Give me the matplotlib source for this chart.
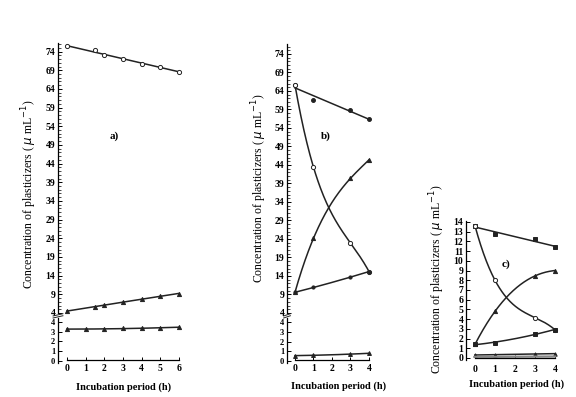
import numpy as np
import matplotlib
matplotlib.use('Agg')
import matplotlib.pyplot as plt
from matplotlib.ticker import MultipleLocator, FixedLocator

plt.rcParams['font.family'] = ['Liberation Serif', 'DejaVu Serif']

# ---------------- data ----------------
# panel a
ta1 = [0, 1.5, 2, 3, 4, 5, 6]
a_top = [75.5, 74.3, 73.0, 71.9, 70.8, 69.9, 68.6]
a_mid = [4.6, 5.5, 6.2, 6.9, 7.8, 8.5, 9.2]
ta3 = [0, 1, 2, 3, 4, 5, 6]
a_low = [3.25, 3.28, 3.30, 3.33, 3.36, 3.33, 3.50]

# panel b
tb = [0, 1, 3, 4]
b_top = [65.6, 61.6, 58.8, 56.4]
b_dec = [65.6, 43.4, 22.9, 15.2]
b_inc = [9.6, 24.2, 40.4, 45.4]
b_lin = [9.6, 10.9, 13.7, 15.2]
b_low = [0.55, 0.60, 0.70, 0.80]

# panel c
tc = [0, 1, 3, 4]
c_top = [13.6, 12.75, 12.2, 11.4]
c_dec = [13.6, 8.0, 4.15, 2.9]
c_inc = [1.4, 4.8, 8.45, 9.0]
c_lin = [1.4, 1.55, 2.5, 2.9]
c_low1 = [0.30, 0.35, 0.40, 0.45]
c_low2 = [0.12, 0.12, 0.14, 0.15]

upper_ticks = list(range(4, 75, 5))
lower_ticks = [0, 1, 2, 3, 4]
c_ticks = list(range(0, 15))
ylab = 'Concentration of plasticizers ( $\\mu$ mL$^{-1}$)'
xlab = 'Incubation period (h)'

# ---------------- figure ----------------
W, H = 576, 397
fig = plt.figure(figsize=(5.76, 3.97), dpi=100)

def rect(l, r, t, b):
    return [l / W, 1 - b / H, (r - l) / W, (b - t) / H]

LC = '#222222'
TFS = 7

def base(ax, xlim, ylim):
    ax.set_xlim(*xlim)
    ax.set_ylim(*ylim)
    ax.spines['top'].set_visible(False)
    ax.spines['right'].set_visible(False)
    ax.spines['left'].set_linewidth(0.9)
    ax.spines['bottom'].set_linewidth(0.9)
    ax.tick_params(axis='y', direction='in', length=3, width=0.7, pad=2,
                   labelsize=TFS)
    ax.tick_params(axis='y', which='minor', direction='in', length=1.8, width=0.5)
    ax.patch.set_alpha(0)

def upper_style(ax):
    ax.spines['bottom'].set_visible(False)
    ax.set_xticks([])
    ax.yaxis.set_major_locator(FixedLocator(upper_ticks))
    ax.yaxis.set_minor_locator(MultipleLocator(1))
    ax.set_yticklabels([str(v) for v in upper_ticks], fontweight='bold', fontsize=TFS)

def lower_style(ax, xmax, ypos):
    ax.yaxis.set_major_locator(FixedLocator(lower_ticks))
    ax.set_yticklabels([str(v) for v in lower_ticks], fontweight='bold', fontsize=6)
    ax.spines['bottom'].set_position(('data', ypos))
    ax.spines['bottom'].set_bounds(0, xmax)
    ax.set_xticks(range(0, xmax + 1))
    ax.set_xticklabels([str(v) for v in range(0, xmax + 1)], fontweight='bold')
    ax.tick_params(axis='x', direction='in', length=2.5, width=0.7, pad=3,
                   labelsize=TFS)

def brk(ax):
    for dy in (0.0, 0.045):
        ax.plot([-0.04, 0.04], [1.0 + dy, 1.05 + dy], transform=ax.transAxes,
                color=LC, lw=0.7, clip_on=False)

def line_fit(ax, t, y, deg, **kw):
    tt = np.linspace(min(t), max(t), 200)
    p = np.polyfit(t, y, deg)
    ax.plot(tt, np.polyval(p, tt), color=LC, lw=1.1, **kw)

def pts(ax, t, y, m, open_=False, ms=3):
    ax.plot(t, y, ls='none', marker=m, ms=ms, color=LC,
            mfc='white' if open_ else LC, mew=0.7, clip_on=False)

# ---- panel a ----
aU = fig.add_axes(rect(58, 181, 43, 313))
aL = fig.add_axes(rect(58, 181, 318, 363))
base(aU, (-0.482, 6.107), (4, 76.3))
base(aL, (-0.482, 6.107), (-0.2, 4.4))
upper_style(aU)
lower_style(aL, 6, 0.15)
line_fit(aU, ta1, a_top, 1)
pts(aU, ta1, a_top, 'o', True, 3)
line_fit(aU, ta1, a_mid, 2)
pts(aU, ta1, a_mid, '^', False, 3)
line_fit(aL, ta3, a_low, 2)
pts(aL, ta3, a_low, '^', False, 3)
brk(aL)

# ---- panel b ----
bU = fig.add_axes(rect(287, 371, 44, 313))
bL = fig.add_axes(rect(287, 371, 318, 363))
base(bU, (-0.432, 4.108), (4, 76.7))
base(bL, (-0.432, 4.108), (-0.2, 4.41))
upper_style(bU)
lower_style(bL, 4, 0.1)
line_fit(bU, tb, b_top, 1)
pts(bU, tb, b_top, 'o', False, 2.8)
line_fit(bU, tb, b_dec, 3)
pts(bU, tb, b_dec, 'o', True, 3)
line_fit(bU, tb, b_inc, 3)
pts(bU, tb, b_inc, '^', False, 3)
line_fit(bU, tb, b_lin, 2)
pts(bU, tb, b_lin, 'o', False, 2.3)
line_fit(bL, tb, b_low, 2)
pts(bL, tb, b_low, '^', False, 2.8)
brk(bL)

# ---- panel c ----
cA = fig.add_axes(rect(466, 558, 221, 360))
base(cA, (-0.45, 4.15), (-0.21, 14.1))
cA.yaxis.set_major_locator(FixedLocator(c_ticks))
cA.set_yticklabels([str(v) for v in c_ticks], fontweight='bold', fontsize=TFS)
cA.spines['bottom'].set_position(('data', 0.0))
cA.spines['bottom'].set_bounds(0, 4)
cA.set_xticks(range(0, 5))
cA.set_xticklabels([str(v) for v in range(0, 5)], fontweight='bold')
cA.tick_params(axis='x', direction='in', length=2.5, width=0.7, pad=5, labelsize=TFS)
line_fit(cA, tc, c_top, 1)
pts(cA, tc, c_top, 's', False, 2.6)
line_fit(cA, tc, c_dec, 3)
pts(cA, tc, c_dec, 'o', True, 3)
line_fit(cA, tc, c_inc, 3)
pts(cA, tc, c_inc, '^', False, 3)
line_fit(cA, tc, c_lin, 2)
pts(cA, tc, c_lin, 's', False, 2.3)
line_fit(cA, tc, c_low1, 1)
pts(cA, tc, c_low1, '^', False, 2.5)
cA.plot(tc, c_low2, color='#888888', lw=1.6)

# ---- labels ----
def ftxt(x, y, s, **kw):
    fig.text(x / W, 1 - y / H, s, ha='center', va='center', **kw)

ftxt(29, 194, ylab, rotation=90, fontsize=8.5)
ftxt(259, 188, ylab, rotation=90, fontsize=8.5)
ftxt(437, 279, ylab, rotation=90, fontsize=8.5)
ftxt(124, 387, xlab, fontsize=7.5, fontweight='bold')
ftxt(339, 386, xlab, fontsize=7.5, fontweight='bold')
ftxt(517, 384, xlab, fontsize=7.5, fontweight='bold')
ftxt(114, 136, 'a)', fontsize=8, fontweight='bold')
ftxt(326, 136, 'b)', fontsize=8, fontweight='bold')
ftxt(506, 264, 'c)', fontsize=8, fontweight='bold')

fig.savefig('out.png', dpi=100)
